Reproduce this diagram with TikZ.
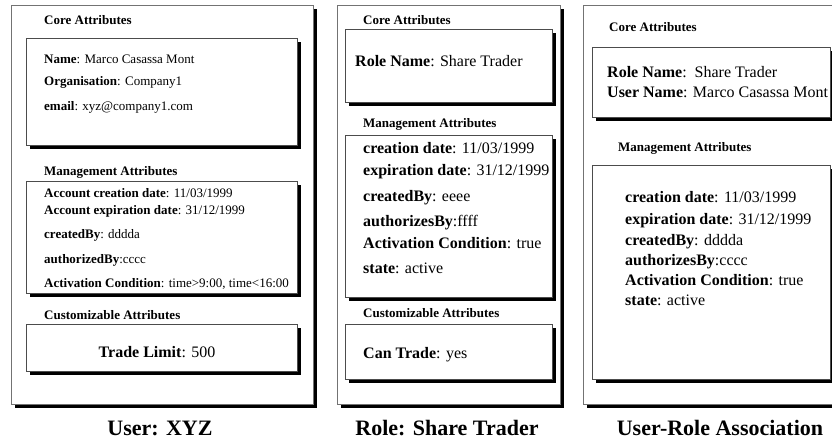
\documentclass[tikz,border=0pt]{standalone}
\usepackage{fontspec}
\setmainfont{Liberation Serif}
\tikzset{
  shadowfill/.style={fill=black},
  panel/.style={draw=black!55, line width=1.2pt, fill=white, inner sep=0pt, anchor=north west},
  attrbox/.style={draw=black!70, line width=0.8pt, fill=white, inner sep=0pt, anchor=north west},
  sect/.style={anchor=base west, inner sep=0pt, font=\fontsize{13}{15}\selectfont\bfseries},
  smalltxt/.style={anchor=base west, inner sep=0pt, font=\fontsize{13}{15}\selectfont},
  bigtxt/.style={anchor=base west, inner sep=0pt, font=\fontsize{16}{19}\selectfont},
  captiontxt/.style={anchor=base, inner sep=0pt, font=\fontsize{22}{26}\selectfont\bfseries},
}
\begin{document}
\begin{tikzpicture}[x=1pt,y=-1pt]
\useasboundingbox (0,0) rectangle (832,445);
% ---------- Panel 1: User ----------
\fill[shadowfill] (15,9) rectangle (317,408);
\node[panel, minimum width=302pt, minimum height=399pt] (p1) at (11,5) {};
\node[sect] (p1core) at (44,24) {Core Attributes};
\fill[shadowfill] (30,42) rectangle (301,149);
\node[attrbox, minimum width=271pt, minimum height=107pt] (core1) at (26,38) {};
\node[smalltxt] (u1) at (44,63) {\textbf{Name}: Marco Casassa Mont};
\node[smalltxt] (u2) at (44,85) {\textbf{Organisation}: Company1};
\node[smalltxt] (u3) at (44,110) {\textbf{email}: xyz@company1.com};
\node[sect] (p1mgmt) at (44,175) {Management Attributes};
\fill[shadowfill] (30,185) rectangle (301,297);
\node[attrbox, minimum width=271pt, minimum height=112pt] (mgmt1) at (26,181) {};
\node[smalltxt] (m1) at (44,197) {\textbf{Account creation date}: 11/03/1999};
\node[smalltxt] (m2) at (44,214) {\textbf{Account expiration date}: 31/12/1999};
\node[smalltxt] (m3) at (44,238) {\textbf{createdBy}: dddda};
\node[smalltxt] (m4) at (44,263) {\textbf{authorizedBy}:cccc};
\node[smalltxt] (m5) at (44,287) {\textbf{Activation Condition}: time>9:00, time<16:00};
\node[sect] (p1cust) at (44,319) {Customizable Attributes};
\fill[shadowfill] (30,328) rectangle (301,375);
\node[attrbox, minimum width=271pt, minimum height=47pt] (cust1) at (26,324) {};
\node[bigtxt, anchor=base] (t1) at (157,357) {\textbf{Trade Limit}: 500};
\node[captiontxt] (cap1) at (160,435) {User: XYZ};
% ---------- Panel 2: Role ----------
\fill[shadowfill] (341,9) rectangle (564,408);
\node[panel, minimum width=223pt, minimum height=399pt] (p2) at (337,5) {};
\node[sect] (p2core) at (363,24) {Core Attributes};
\fill[shadowfill] (349,33) rectangle (556,106);
\node[attrbox, minimum width=207pt, minimum height=73pt] (core2) at (345,29) {};
\node[bigtxt] (r1) at (355,66) {\textbf{Role Name}: Share Trader};
\node[sect] (p2mgmt) at (363,127) {Management Attributes};
\fill[shadowfill] (349,139) rectangle (556,301);
\node[attrbox, minimum width=207pt, minimum height=162pt] (mgmt2) at (345,135) {};
\node[bigtxt] (n1) at (363,153) {\textbf{creation date}: 11/03/1999};
\node[bigtxt] (n2) at (363,175) {\textbf{expiration date}: 31/12/1999};
\node[bigtxt] (n3) at (363,201) {\textbf{createdBy}: eeee};
\node[bigtxt] (n4) at (363,226) {\textbf{authorizesBy}:ffff};
\node[bigtxt] (n5) at (363,248) {\textbf{Activation Condition}: true};
\node[bigtxt] (n6) at (363,273) {\textbf{state}: active};
\node[sect] (p2cust) at (363,317) {Customizable Attributes};
\fill[shadowfill] (349,328) rectangle (556,383);
\node[attrbox, minimum width=207pt, minimum height=55pt] (cust2) at (345,324) {};
\node[bigtxt] (ct) at (363,358) {\textbf{Can Trade}: yes};
\node[captiontxt] (cap2) at (447,435) {Role: Share Trader};
% ---------- Panel 3: User-Role Association ----------
\fill[shadowfill] (587,9) rectangle (840,408);
\node[panel, minimum width=253pt, minimum height=399pt] (p3) at (583,5) {};
\node[sect] (p3core) at (609,31) {Core Attributes};
\fill[shadowfill] (596,51) rectangle (834,121);
\node[attrbox, minimum width=238pt, minimum height=70pt] (core3) at (592,47) {};
\node[bigtxt] (a1) at (607,77) {\textbf{Role Name}:\ \ Share Trader};
\node[bigtxt] (a2) at (607,97) {\textbf{User Name}: Marco Casassa Mont};
\node[sect] (p3mgmt) at (618,151) {Management Attributes};
\fill[shadowfill] (596,169) rectangle (834,383);
\node[attrbox, minimum width=238pt, minimum height=214pt] (mgmt3) at (592,165) {};
\node[bigtxt] (s1) at (625,202) {\textbf{creation date}: 11/03/1999};
\node[bigtxt] (s2) at (625,224) {\textbf{expiration date}: 31/12/1999};
\node[bigtxt] (s3) at (625,245) {\textbf{createdBy}: dddda};
\node[bigtxt] (s4) at (625,265) {\textbf{authorizesBy}:cccc};
\node[bigtxt] (s5) at (625,285) {\textbf{Activation Condition}: true};
\node[bigtxt] (s6) at (625,305) {\textbf{state}: active};
\node[captiontxt] (cap3) at (720,435) {User-Role Association};
\end{tikzpicture}
\end{document}
